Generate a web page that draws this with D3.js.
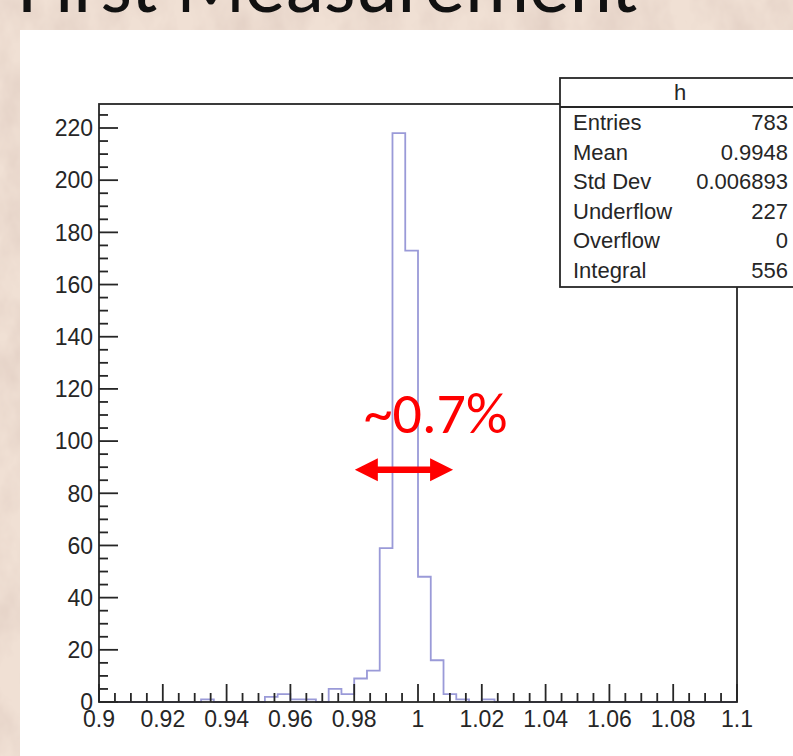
<!DOCTYPE html>
<html>
<head>
<meta charset="utf-8">
<script src="https://cdn.jsdelivr.net/npm/d3@7"></script>
<style>
  body { margin: 0; background: #ecdacc; }
  svg { display: block; }
</style>
</head>
<body>
<div id="chart"></div>
<script>
// histogram "h": 50 bins from 0.9 to 1.1 (width 0.004)
var binLow = 0.9, binHigh = 1.1, nBins = 50;
// non-empty bins, keyed by their lower edge
var binEdges  = [0.932, 0.952, 0.956, 0.960, 0.964, 0.972, 0.976, 0.980, 0.984, 0.988, 0.992, 0.996, 1.000, 1.004, 1.008, 1.012, 1.020];
var binCounts = [1,     2,     3,     1,     1,     5,     3,     9,     12,    59,    218,   173,   48,    16,    3,     1,     1];

var xTicks = [0.9, 0.92, 0.94, 0.96, 0.98, 1, 1.02, 1.04, 1.06, 1.08, 1.1];
var yTicks = [0, 20, 40, 60, 80, 100, 120, 140, 160, 180, 200, 220];

var statNames  = ["Entries", "Mean", "Std Dev", "Underflow", "Overflow", "Integral"];
var statValues = ["783", "0.9948", "0.006893", "227", "0", "556"];

var W = 793, H = 756;
var padL = 99, padR = 737, padT = 104, padB = 702;
var yMax = 229.2;

var svg = d3.select("#chart").append("svg")
  .attr("width", W)
  .attr("height", H);

// parchment-ish slide background
var defs = svg.append("defs");
var f = defs.append("filter").attr("id", "paper")
  .attr("x", 0).attr("y", 0).attr("width", "100%").attr("height", "100%");
f.append("feTurbulence")
  .attr("type", "fractalNoise")
  .attr("baseFrequency", "0.03 0.02")
  .attr("numOctaves", 4)
  .attr("seed", 7);
f.append("feColorMatrix")
  .attr("type", "matrix")
  .attr("values", "0 0 0 0 0.66  0 0 0 0 0.52  0 0 0 0 0.46  0.8 0 0 0 -0.28");

svg.append("rect").attr("width", W).attr("height", H).attr("fill", "#f0e0d4");
svg.append("rect").attr("width", W).attr("height", H).attr("filter", "url(#paper)");

// slide title, mostly off the top of the picture
svg.append("text")
  .attr("x", 18)
  .attr("y", 12)
  .attr("font-family", "Carlito, 'Open Sans', 'Liberation Sans', sans-serif")
  .attr("font-size", 80)
  .attr("textLength", 620)
  .attr("lengthAdjust", "spacingAndGlyphs")
  .attr("fill", "#111")
  .text("First Measurement");

// white canvas
svg.append("rect")
  .attr("x", 20).attr("y", 30)
  .attr("width", W - 20).attr("height", H - 30)
  .attr("fill", "#fff");

var x = d3.scaleLinear().domain([binLow, binHigh]).range([padL, padR]);
var y = d3.scaleLinear().domain([0, yMax]).range([padB, padT]);

// full bin list
var bins = d3.range(nBins).map(function (i) {
  var lo = binLow + i * (binHigh - binLow) / nBins;
  var k = binEdges.findIndex(function (e) { return Math.abs(e - lo) < 1e-6; });
  return { lo: lo, v: k >= 0 ? binCounts[k] : 0 };
});
var pts = bins.map(function (b) { return [b.lo, b.v]; });
pts.push([binHigh, 0]);

var axisFont = "'Liberation Sans', Arial, Helvetica, sans-serif";
var ink = "#262626";

// histogram outline
svg.append("path")
  .attr("d", d3.line()
    .x(function (d) { return x(d[0]); })
    .y(function (d) { return y(d[1]); })
    .curve(d3.curveStepAfter)([[binLow, 0]].concat(pts)))
  .attr("fill", "none")
  .attr("stroke", "#9a9ad8")
  .attr("stroke-width", 1.8);

// frame
svg.append("rect")
  .attr("x", padL).attr("y", padT)
  .attr("width", padR - padL).attr("height", padB - padT)
  .attr("fill", "none")
  .attr("stroke", ink)
  .attr("stroke-width", 1.8);

// y axis ticks (inside) and labels
var yMinor = d3.range(0, yMax, 5);
svg.append("g").selectAll("line").data(yMinor).join("line")
  .attr("x1", padL)
  .attr("x2", function (d) { return padL + (d % 20 === 0 ? 19 : 9); })
  .attr("y1", function (d) { return y(d); })
  .attr("y2", function (d) { return y(d); })
  .attr("stroke", ink)
  .attr("stroke-width", 1.8);
svg.append("g").selectAll("text").data(yTicks).join("text")
  .attr("x", padL - 6)
  .attr("y", function (d) { return y(d); })
  .attr("dy", "0.36em")
  .attr("text-anchor", "end")
  .attr("font-family", axisFont)
  .attr("font-size", 23)
  .attr("fill", ink)
  .text(function (d) { return d; });

// x axis ticks (inside) and labels
var xMinor = d3.range(0, 41).map(function (i) { return binLow + i * 0.005; });
svg.append("g").selectAll("line").data(xMinor).join("line")
  .attr("x1", function (d) { return x(d); })
  .attr("x2", function (d) { return x(d); })
  .attr("y1", padB)
  .attr("y2", function (d, i) { return padB - (i % 4 === 0 ? 18 : 9); })
  .attr("stroke", ink)
  .attr("stroke-width", 1.8);
svg.append("g").selectAll("text").data(xTicks).join("text")
  .attr("x", function (d) { return x(d); })
  .attr("y", padB + 25)
  .attr("text-anchor", "middle")
  .attr("font-family", axisFont)
  .attr("font-size", 23)
  .attr("fill", ink)
  .text(function (d) { return +d.toFixed(2); });

// stats box
var bx = 560, by = 78, bw = 240, bh = 209, hdr = 29;
var box = svg.append("g");
box.append("rect")
  .attr("x", bx).attr("y", by).attr("width", bw).attr("height", bh)
  .attr("fill", "#fff").attr("stroke", ink).attr("stroke-width", 1.8);
box.append("line")
  .attr("x1", bx).attr("x2", bx + bw)
  .attr("y1", by + hdr).attr("y2", by + hdr)
  .attr("stroke", ink).attr("stroke-width", 1.8);
box.append("text")
  .attr("x", 680).attr("y", by + hdr / 2)
  .attr("dy", "0.36em")
  .attr("text-anchor", "middle")
  .attr("font-family", axisFont).attr("font-size", 22).attr("fill", ink)
  .text("h");
var rowY = function (i) { return 122 + i * 29.6; };
box.selectAll("text.nm").data(statNames).join("text")
  .attr("class", "nm")
  .attr("x", 573).attr("y", function (d, i) { return rowY(i); })
  .attr("dy", "0.36em")
  .attr("font-family", axisFont).attr("font-size", 22).attr("fill", ink)
  .text(function (d) { return d; });
box.selectAll("text.val").data(statValues).join("text")
  .attr("class", "val")
  .attr("x", 788).attr("y", function (d, i) { return rowY(i); })
  .attr("dy", "0.36em")
  .attr("text-anchor", "end")
  .attr("font-family", axisFont).attr("font-size", 22).attr("fill", ink)
  .text(function (d) { return d; });

// red width annotation
var red = "#ff0000";
svg.append("text")
  .attr("x", x(1.0055))
  .attr("y", y(103))
  .attr("text-anchor", "middle")
  .attr("font-family", "Carlito, 'Liberation Sans', Arial, sans-serif")
  .attr("font-size", 58)
  .attr("fill", red)
  .text("~0.7%");

var ax1 = x(0.9802), ax2 = x(1.0110), ay = y(89);
var head = 23, hh = 11.5, sh = 3.2;
svg.append("path")
  .attr("d", [
    "M", ax1, ay,
    "L", ax1 + head, ay - hh,
    "L", ax1 + head, ay - sh,
    "L", ax2 - head, ay - sh,
    "L", ax2 - head, ay - hh,
    "L", ax2, ay,
    "L", ax2 - head, ay + hh,
    "L", ax2 - head, ay + sh,
    "L", ax1 + head, ay + sh,
    "L", ax1 + head, ay + hh,
    "Z"].join(" "))
  .attr("fill", red);
</script>
</body>
</html>
